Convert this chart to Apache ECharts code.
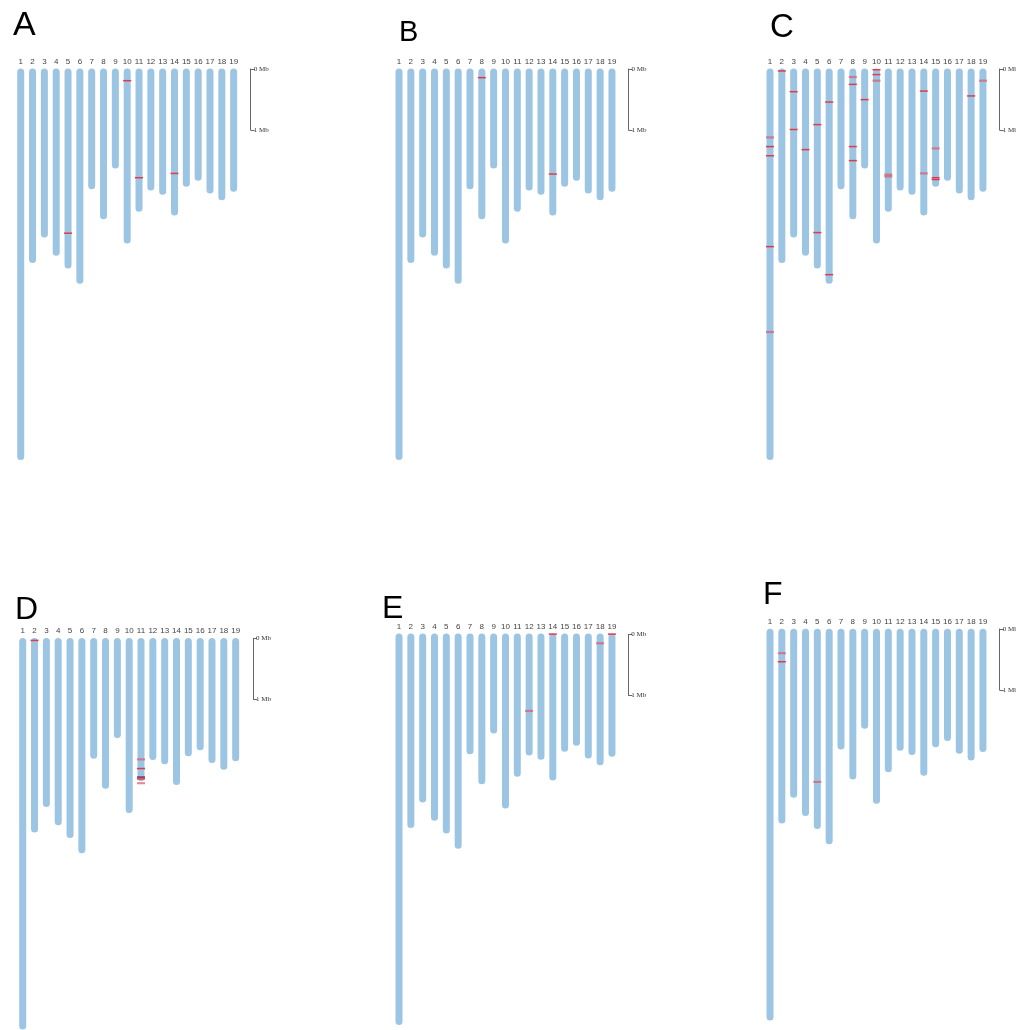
<!DOCTYPE html>
<html><head><meta charset="utf-8">
<script src="https://cdn.jsdelivr.net/npm/echarts@6/dist/echarts.min.js"></script>
<style>html,body{margin:0;padding:0;background:#fff}#c{width:1016px;height:1030px}</style>
</head><body><div id="c"></div>
<script>
// ---- data ----
const chromosomes = ['1','2','3','4','5','6','7','8','9','10','11','12','13','14','15','16','17','18','19'];
const chromLengthMb = [6.42, 3.19, 2.77, 3.07, 3.28, 3.53, 1.98, 2.47, 1.64, 2.87, 2.35, 2.00, 2.07, 2.41, 1.94, 1.84, 2.05, 2.16, 2.02];
const scaleTicksMb = [0, 1];
const scaleTickLabels = ['0 Mb', '1 Mb'];
const panelLabels = ['A', 'B', 'C', 'D', 'E', 'F'];
// markers: [chromosome, position (Mb), class]  class 1 = strong, 2 = weak, 3 = dark
const markersA = [[10, 0.20, 1], [11, 1.79, 1], [14, 1.72, 1], [5, 2.70, 1]];
const markersB = [[8, 0.15, 1], [14, 1.73, 1]];
const markersC = [
  [1, 1.13, 2], [1, 1.28, 1], [1, 1.43, 1], [1, 2.92, 1], [1, 4.32, 2],
  [2, 0.04, 1], [3, 0.38, 1], [3, 1.00, 1], [4, 1.33, 1],
  [5, 0.92, 1], [5, 2.69, 1], [6, 0.55, 1], [6, 3.38, 1],
  [8, 0.14, 2], [8, 0.26, 1], [8, 1.28, 1], [8, 1.51, 1],
  [9, 0.51, 1], [10, 0.02, 1], [10, 0.10, 1], [10, 0.20, 2],
  [11, 1.74, 2], [11, 1.77, 2], [14, 0.37, 1], [14, 1.72, 2],
  [15, 1.31, 2], [15, 1.79, 1], [15, 1.82, 1], [18, 0.45, 1], [19, 0.20, 2]
];
const markersD = [[2, 0.04, 1], [11, 1.99, 2], [11, 2.14, 1], [11, 2.28, 3], [11, 2.31, 1], [11, 2.38, 2]];
const markersE = [[14, 0.01, 1], [19, 0.01, 1], [18, 0.16, 2], [12, 1.27, 2]];
const markersF = [[2, 0.40, 2], [2, 0.54, 1], [5, 2.51, 2]];
const panelMarkers = [markersA, markersB, markersC, markersD, markersE, markersF];

// ---- layout (pixels) ----
const layout = [
  {left: 14.8,  top: 68.5, scaleX: 251.7, scaleTop: 69.0,  lx: 13,  ly: 26,  fs: 34},
  {left: 393.1, top: 68.5, scaleX: 629.5, scaleTop: 69.0,  lx: 399, ly: 33,  fs: 29},
  {left: 764.1, top: 68.5, scaleX: 1000.7, scaleTop: 69.0, lx: 770, ly: 28,  fs: 33},
  {left: 16.8,  top: 638.0, scaleX: 254.0, scaleTop: 638.3, lx: 15, ly: 610, fs: 32},
  {left: 393.1, top: 633.5, scaleX: 629.3, scaleTop: 634.3, lx: 382, ly: 609, fs: 32},
  {left: 764.1, top: 628.8, scaleX: 1000.7, scaleTop: 629.0, lx: 763, ly: 595, fs: 32}
];
const pxPerMb = 61;
const yMax = 6.45;
const gridW = 19 * 11.83;

const grid = [], xAxis = [], yAxis = [], series = [], graphic = [];
layout.forEach((L, p) => {
  const gi = grid.length;
  grid.push({left: L.left, top: L.top, width: gridW, height: yMax * pxPerMb, outerBoundsMode: 'none', containLabel: false});
  xAxis.push({type: 'category', gridIndex: gi, data: chromosomes, position: 'top',
    axisLine: {show: false}, axisTick: {show: false},
    axisLabel: {interval: 0, margin: 3, fontSize: 8, fontFamily: 'Liberation Sans', color: '#444'}});
  yAxis.push({type: 'value', gridIndex: gi, inverse: true, min: 0, max: yMax, show: false});
  series.push({type: 'bar', xAxisIndex: gi, yAxisIndex: gi, data: chromLengthMb, barWidth: 7,
    itemStyle: {color: '#9cc5e3', borderRadius: 3.5}, silent: true, animation: false});
  const m = panelMarkers[p];
  const styles = {1: {color: '#e23a4a', h: 1.5}, 2: {color: 'rgba(220,90,105,0.7)', h: 2.2}, 3: {color: '#8a2a48', h: 1.5}};
  [1, 2, 3].forEach(k => {
    const d = m.filter(r => r[2] === k).map(r => [r[0] - 1, r[1]]);
    if (!d.length) return;
    series.push({type: 'scatter', xAxisIndex: gi, yAxisIndex: gi, data: d, symbol: 'rect',
      symbolSize: [8, styles[k].h], itemStyle: {color: styles[k].color, opacity: 1}, silent: true, animation: false, z: 3});
  });
  // scale bar grid
  const si = grid.length;
  grid.push({left: L.scaleX - 1, top: L.scaleTop, width: 1, height: pxPerMb, outerBoundsMode: 'none', containLabel: false});
  xAxis.push({type: 'value', gridIndex: si, show: false});
  yAxis.push({type: 'value', gridIndex: si, inverse: true, min: scaleTicksMb[0], max: scaleTicksMb[1], interval: 1,
    position: 'right', splitLine: {show: false},
    axisLine: {show: true, lineStyle: {color: '#666', width: 1}},
    axisTick: {show: true, length: 4, lineStyle: {color: '#666'}},
    axisLabel: {margin: 2, fontSize: 7, fontFamily: 'Liberation Serif', color: '#333',
      formatter: v => scaleTickLabels[scaleTicksMb.indexOf(v)]}});
  graphic.push({type: 'text', x: L.lx, y: L.ly, style: {text: panelLabels[p], font: L.fs + 'px "Liberation Sans"', fill: '#000', verticalAlign: 'middle', align: 'left'}});
});

const chart = echarts.init(document.getElementById('c'), null, {renderer: 'canvas'});
chart.setOption({animation: false, backgroundColor: '#fff', grid, xAxis, yAxis, series, graphic});
</script>
</body></html>
